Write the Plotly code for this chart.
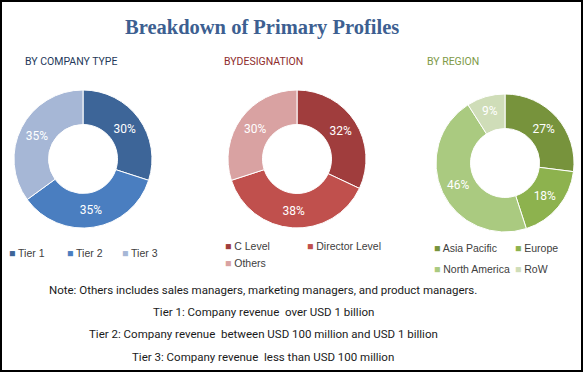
import plotly.graph_objects as go

title = "Breakdown of Primary Profiles"

company_labels = ["Tier 1", "Tier 2", "Tier 3"]
company_values = [30, 35, 35]
company_colors = ["#3D6598", "#4A7EC0", "#A6B7D6"]

designation_labels = ["C Level", "Director Level", "Others"]
designation_values = [32, 38, 30]
designation_colors = ["#A03D3D", "#C0504D", "#D9A2A2"]

region_labels = ["Asia Pacific", "Europe", "North America", "RoW"]
region_values = [27, 18, 46, 9]
region_colors = ["#77933C", "#8DB24E", "#AACA80", "#CFDDB8"]

subtitles = ["BY COMPANY TYPE", "BYDESIGNATION", "BY REGION"]
subtitle_colors = ["#24385A", "#8E2C2C", "#7E9A47"]

notes = [
    "Note: Others includes sales managers, marketing managers, and product managers.",
    "Tier 1: Company revenue  over USD 1 billion",
    "Tier 2: Company revenue  between USD 100 million and USD 1 billion",
    "Tier 3: Company revenue  less than USD 100 million",
]

W, H = 583, 372
SANS = "Roboto, sans-serif"

fig = go.Figure()

pies = [
    (company_labels, company_values, company_colors, (83, 159)),
    (designation_labels, designation_values, designation_colors, (297, 159)),
    (region_labels, region_values, region_colors, (505, 163)),
]
R = 69
for labels, values, colors, (cx, cy) in pies:
    fig.add_trace(go.Pie(
        labels=labels, values=values, sort=False, direction="clockwise", rotation=0,
        hole=0.5, marker=dict(colors=colors, line=dict(color="white", width=1)),
        texttemplate="%{value}%", textposition="inside", insidetextorientation="horizontal",
        textfont=dict(color="white", size=12, family=SANS),
        showlegend=False, hoverinfo="label+percent",
        domain=dict(x=[(cx - R) / W, (cx + R) / W], y=[(H - cy - R) / H, (H - cy + R) / H]),
    ))

annotations = []
annotations.append(dict(text="<b>" + title + "</b>", x=262 / W, y=1 - 27 / H, xref="paper", yref="paper",
                        showarrow=False, xanchor="center", yanchor="middle",
                        font=dict(family="Liberation Serif, DejaVu Serif, serif", size=20.5, color="#3D5F91")))
sub_x = [71, 263, 453]
for s, c, x in zip(subtitles, subtitle_colors, sub_x):
    annotations.append(dict(text=s, x=x / W, y=1 - 62 / H, xref="paper", yref="paper", showarrow=False,
                            xanchor="center", yanchor="middle", font=dict(family=SANS, size=10.5, color=c)))

# legends built from labels/colors
legend_layouts = [
    (company_labels, company_colors, [(7, 253), (65, 253), (120, 253)]),
    (designation_labels, designation_colors, [(223, 246), (305, 246), (223, 263)]),
    (region_labels, region_colors, [(432, 248), (513, 248), (432, 269), (513, 269)]),
]
for labels, colors, pos in legend_layouts:
    for lab, col, (x, y) in zip(labels, colors, pos):
        annotations.append(dict(
            text=f"<span style='color:{col}'>■</span> {lab}", x=x / W, y=1 - y / H,
            xref="paper", yref="paper", showarrow=False, xanchor="left", yanchor="middle",
            font=dict(family="Liberation Sans, Arial, sans-serif", size=10.5, color="#404040")))

note_y = [290, 312, 334, 357]
for t, y in zip(notes, note_y):
    annotations.append(dict(text=t, x=263 / W, y=1 - y / H, xref="paper", yref="paper", showarrow=False,
                            xanchor="center", yanchor="middle",
                            font=dict(family=SANS, size=11.5, color="#1a1a1a")))

fig.update_layout(
    width=W, height=H, margin=dict(l=0, r=0, t=0, b=0),
    paper_bgcolor="white", plot_bgcolor="white",
    annotations=annotations,
    shapes=[dict(type="rect", xref="paper", yref="paper", x0=0, y0=0, x1=1, y1=1,
                 line=dict(color="black", width=4))],
)
fig.write_html("out.html", config={"displayModeBar": False},
               post_script="document.body.style.margin='0';document.body.style.overflow='hidden';")
